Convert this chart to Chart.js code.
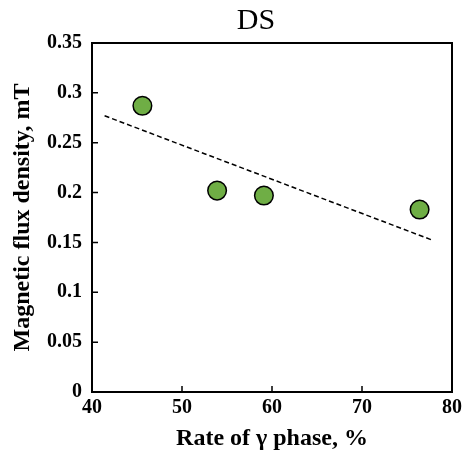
<!DOCTYPE html>
<html>
<head>
<meta charset="utf-8">
<script src="https://cdn.jsdelivr.net/npm/chart.js@4/dist/chart.umd.min.js"></script>
<style>
    html, body { margin: 0; padding: 0; background: #fff; }
    #wrap { width: 463px; height: 459px; }
</style>
</head>
<body>
<div id="wrap"><canvas id="chart"></canvas></div>
<script>
// measured points
const gammaRate = [45.6, 53.9, 59.1, 76.4];
const fluxDensity = [0.287, 0.202, 0.197, 0.183];
// dashed trend line ends
const trendX = [41.4, 77.9];
const trendY = [0.277, 0.152];

const xTicks = [40, 50, 60, 70, 80];
const yTicks = [0, 0.05, 0.1, 0.15, 0.2, 0.25, 0.3, 0.35];

const serif = "'Liberation Serif', 'Times New Roman', serif";

// frame round the plot area, ticks pointing inward, and the title
const framePlugin = {
    id: "frame",
    afterDraw(chart) {
        const ctx = chart.ctx;
        const a = chart.chartArea;
        const xs = chart.scales.x;
        const ys = chart.scales.y;
        ctx.save();
        ctx.strokeStyle = "#000";
        ctx.lineWidth = 1.5;
        ctx.beginPath();
        xTicks.forEach((v)=>{
            const px = xs.getPixelForValue(v);
            ctx.moveTo(px, a.bottom);
            ctx.lineTo(px, a.bottom - 6);
        });
        yTicks.forEach((v)=>{
            const py = ys.getPixelForValue(v);
            ctx.moveTo(a.left, py);
            ctx.lineTo(a.left + 6, py);
        });
        ctx.stroke();
        ctx.lineWidth = 2;
        ctx.strokeRect(a.left, a.top, a.right - a.left, a.bottom - a.top);
        ctx.fillStyle = "#000";
        ctx.font = "30px " + serif;
        ctx.textAlign = "center";
        ctx.textBaseline = "middle";
        ctx.fillText("DS", a.left + 164, 21);
        ctx.restore();
    }
};

const datasets = [
    {
        label: "trend",
        data: trendX.map((x, i)=>({ x: x, y: trendY[i] })),
        showLine: true,
        borderColor: "#000",
        borderWidth: 1.5,
        borderDash: [5, 3],
        pointRadius: 0,
        order: 2
    },
    {
        label: "DS",
        data: gammaRate.map((x, i)=>({ x: x, y: fluxDensity[i] })),
        showLine: false,
        backgroundColor: "#6fae45",
        borderColor: "#000",
        borderWidth: 1.5,
        pointRadius: 9.3,
        pointHoverRadius: 9.3,
        order: 1
    }
];

new Chart(document.getElementById("chart"), {
    type: "scatter",
    data: { datasets: datasets },
    options: {
        responsive: true,
        maintainAspectRatio: false,
        animation: false,
        layout: { padding: { top: 43, right: 11, bottom: 0, left: 0 } },
        plugins: {
            legend: { display: false },
            tooltip: { enabled: false },
            title: { display: false }
        },
        scales: {
            x: {
                type: "linear",
                min: 40,
                max: 80,
                afterBuildTicks: (scale)=>{ scale.ticks = xTicks.map((v)=>({ value: v })); },
                afterFit: (scale)=>{
                    scale.height = 67;
                    scale.paddingLeft = 0;
                    scale.paddingRight = 0;
                },
                grid: { display: false, drawTicks: false },
                border: { display: false },
                ticks: {
                    padding: 4,
                    color: "#000",
                    font: { family: serif, size: 20, weight: "bold" }
                },
                title: {
                    display: true,
                    text: "Rate of γ phase, %",
                    color: "#000",
                    padding: { top: 0, bottom: 6 },
                    font: { family: serif, size: 24, weight: "bold" }
                }
            },
            y: {
                type: "linear",
                min: 0,
                max: 0.35,
                afterBuildTicks: (scale)=>{ scale.ticks = yTicks.map((v)=>({ value: v })); },
                afterFit: (scale)=>{
                    scale.width = 92;
                    scale.paddingTop = 0;
                    scale.paddingBottom = 0;
                },
                grid: { display: false, drawTicks: false },
                border: { display: false },
                ticks: {
                    padding: 10,
                    color: "#000",
                    font: { family: serif, size: 20, weight: "bold" },
                    callback: (v)=>String(Math.round(v * 100) / 100)
                },
                title: {
                    display: true,
                    text: "Magnetic flux density, mT",
                    color: "#000",
                    padding: { top: 8, bottom: 0 },
                    font: { family: serif, size: 24, weight: "bold" }
                }
            }
        }
    },
    plugins: [framePlugin]
});
</script>
</body>
</html>
